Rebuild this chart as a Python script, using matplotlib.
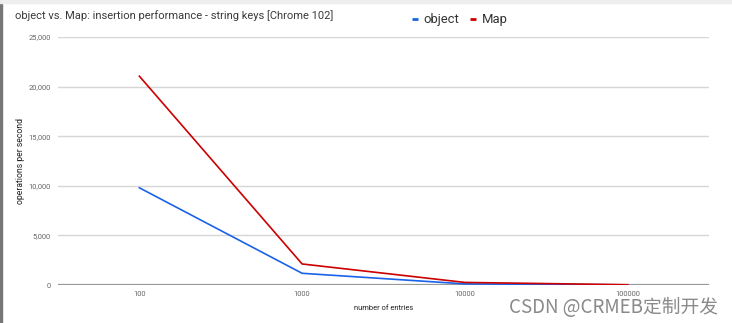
import matplotlib
matplotlib.use("Agg")
import matplotlib.pyplot as plt
from matplotlib.lines import Line2D
from matplotlib.patches import Rectangle

plt.rcParams['font.family'] = ['Roboto', 'DejaVu Sans']

categories = ["100", "1000", "10000", "100000"]
object_ops = [9800, 1180, 110, 15]
map_ops = [21050, 2120, 260, 25]
y_ticks = [0, 5000, 10000, 15000, 20000, 25000]
y_tick_labels = ["0", "5,000", "10,000", "15,000", "20,000", "25,000"]

blue = "#1a62e8"
red = "#cc0000"

fig = plt.figure(figsize=(7.32, 3.23), dpi=100)
ax = fig.add_axes([58 / 732, 1 - 285 / 323, 651 / 732, 248 / 323])

x = range(len(categories))
ax.plot(x, object_ops, color=blue, lw=1.2, solid_joinstyle="miter")
ax.plot(x, map_ops, color=red, lw=1.2, solid_joinstyle="miter")

ax.set_xlim(-0.5, len(categories) - 0.5)
ax.set_ylim(0, 25000)
ax.set_xticks(list(x))
ax.set_xticklabels(categories)
ax.set_yticks(y_ticks)
ax.set_yticklabels(y_tick_labels)
ax.tick_params(length=0, labelsize=5.4, labelcolor="#666666", pad=5)
ax.tick_params(axis="x", pad=4)
ax.grid(axis="y", color="#d6d6d6", lw=1)
ax.set_axisbelow(True)
for s in ax.spines.values():
    s.set_visible(False)
ax.axhline(0, color="#999999", lw=1.6, zorder=1)

ax.set_ylabel("operations per second", fontsize=6.2, color="#222222", labelpad=3)
ax.set_xlabel("number of entries", fontsize=5.4, color="#222222", labelpad=5)

fig.text(15 / 732, 1 - 16 / 323, "object vs. Map: insertion performance - string keys [Chrome 102]",
         fontsize=8.0, color="#3a3a3a", va="center", ha="left")

handles = [Line2D([], [], color=blue, lw=2, solid_capstyle="butt"),
           Line2D([], [], color=red, lw=2, solid_capstyle="butt")]
fig.legend(handles, ["object", "Map"], loc="center left", bbox_to_anchor=(400 / 732, 1 - 20 / 323),
           ncol=2, frameon=False, fontsize=9.4, handlelength=0.5, handletextpad=0.4,
           columnspacing=0.8, labelcolor="#333333")

fig.text(718 / 732, 1 - 313 / 323, "CSDN @CRMEB定制开发", fontsize=13.5, color="#8a8a8a",
         ha="right", va="baseline", family=["Noto Sans CJK SC", "DejaVu Sans"])

# frame edges
fig.patches.append(Rectangle((0, 0), 2 / 732, 1, transform=fig.transFigure,
                             color="#777777", zorder=0))
fig.patches.append(Rectangle((0, 1 - 3 / 323), 1, 3 / 323, transform=fig.transFigure,
                             color="#eeeeee", zorder=0))

fig.savefig("out.png", dpi=100)
